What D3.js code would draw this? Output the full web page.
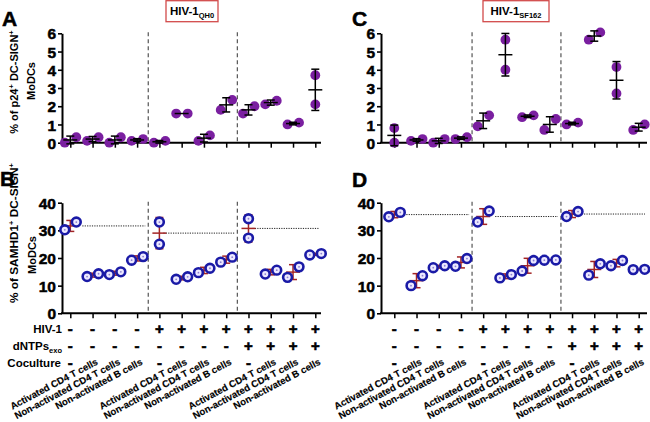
<!DOCTYPE html>
<html><head><meta charset="utf-8">
<script src="https://cdn.jsdelivr.net/npm/d3@7"></script>
<style>
body{margin:0;background:#fff}
svg{display:block}
svg text{font-family:"Liberation Sans",Arial,sans-serif !important;font-weight:700 !important;fill:#000}
</style>
</head><body>
<svg id="chart" width="650" height="422" font-family="Liberation Sans" font-weight="bold"></svg>
<script>
// ---------- data ----------
const groupIndex = d3.range(12);
const hivSigns  = ["-","-","-","-","+","+","+","+","+","+","+","+"];
const dntpSigns = ["-","-","-","-","-","-","-","-","+","+","+","+"];
const cocultureLabels = ["-","Activated CD4 T cells","Non-activated CD4 T cells","Non-activated B cells",
                         "-","Activated CD4 T cells","Non-activated CD4 T cells","Non-activated B cells",
                         "-","Activated CD4 T cells","Non-activated CD4 T cells","Non-activated B cells"];
const p24Ticks = [0,1,2,3,4,5,6];
const samhd1Ticks = [0,10,20,30,40];
const titleQH0 = ["HIV-1","QH0"];
const titleSF162 = ["HIV-1","SF162"];
// % of p24+ DC-SIGN+ MoDCs (two donors per condition)
const p24QH0 = [[0,0.3],[0.1,0.3],[0,0.3],[0.1,0.2],[0,0.1],[1.6,1.6],[0.1,0.4],[1.8,2.35],
                [1.6,2.0],[2.1,2.3],[1.0,1.1],[2.1,3.7]];
const p24SF162 = [[0,0.8],[0.1,0.2],[0,0.2],[0.2,0.3],[0.9,1.5],[4.0,5.65],[1.4,1.5],[0.7,1.3],
                  [1.0,1.1],[5.65,6.05],[2.7,4.15],[0.7,1.0]];
// % of SAMHD1+ DC-SIGN+ MoDCs
const samhd1QH0 = [[30.2,33],[13.3,14.3],[14.0,15.0],[19.2,20.5],[33,25],[12.3,13.2],[14.7,16.3],[18.5,20.3],
                   [34.2,27.2],[14.2,15.6],[13,16.8],[21.1,21.6]];
const samhd1SF162 = [[34.9,36.5],[10,13.6],[16.5,17.2],[17,19.8],[33,37],[12.8,14.0],[15.3,19.1],[19.2,19.3],
                     [35,36.8],[13.8,17.9],[17.2,19.1],[15.8,15.9]];
const referenceGroups = [0,4,8];

// ---------- drawing ----------
const svg = d3.select("#chart");

const xLeft  = d3.scalePoint().domain(groupIndex).range([70.3, 315.3]);
const xRight = d3.scalePoint().domain(groupIndex).range([394.3, 638.7]);
const yTop = d3.scaleLinear().domain([0,6]).range([142.7, 33.3]);
const yBot = d3.scaleLinear().domain([0,40]).range([313.3, 202.7]);

const panels = [
  {x:xLeft,  y:yTop, ticks:p24Ticks,    data:p24QH0,     axisX:62,  axisEnd:321, kind:"dot",  letter:"A", lx:2,   ly:26},
  {x:xRight, y:yTop, ticks:p24Ticks,    data:p24SF162,   axisX:381, axisEnd:647, kind:"dot",  letter:"C", lx:352, ly:26},
  {x:xLeft,  y:yBot, ticks:samhd1Ticks, data:samhd1QH0,  axisX:62,  axisEnd:321, kind:"ring", letter:"B", lx:0,   ly:186},
  {x:xRight, y:yBot, ticks:samhd1Ticks, data:samhd1SF162,axisX:381, axisEnd:647, kind:"ring", letter:"D", lx:352, ly:187}
];

// y-axis titles (drawn first so panel letters sit on top)
function yTitle(cy, line1Parts, x1, x2, cy2, fs){
  const t1 = svg.append("text").attr("transform",`translate(${x1},${cy}) rotate(-90)`)
    .attr("text-anchor","middle").attr("font-size",fs);
  line1Parts.forEach(pt => {
    if (pt === "+") t1.append("tspan").attr("font-size",7.5).attr("dy",-4).text("+")
    else if (pt.startsWith("|")) t1.append("tspan").attr("dy",4).text(pt.slice(1))
    else t1.append("tspan").text(pt);
  });
  svg.append("text").attr("transform",`translate(${x2},${cy2}) rotate(-90)`)
    .attr("text-anchor","middle").attr("font-size",11).text("MoDCs");
}
yTitle(82, ["% of p24","+","| DC-SIGN","+"], 18, 35, 81, 11);
yTitle(233, ["% of SAMHD1","+","| DC-SIGN","+"], 18, 36, 255, 11.8);

panels.forEach(p => {
  const g = svg.append("g");
  const y0 = p.y(0), yMax = p.y.range()[1];
  const step = p.x.step();

  // dashed separators
  [3.5, 7.5].forEach(k => {
    const xx = p.x(Math.floor(k)) + step/2;
    g.append("line").attr("x1",xx).attr("x2",xx).attr("y1",yMax-1).attr("y2",y0)
      .attr("stroke","#555").attr("stroke-width",1.2).attr("stroke-dasharray","4,3");
  });

  // y axis
  const ya = g.append("g").attr("transform",`translate(${p.axisX},0)`)
    .call(d3.axisLeft(p.y).tickValues(p.ticks).tickSize(4).tickSizeOuter(0).tickPadding(2).tickFormat(d3.format("d")));
  ya.attr("font-family",null).attr("font-size",null);
  ya.select(".domain").attr("stroke","#000").attr("stroke-width",2);
  ya.selectAll(".tick line").attr("stroke","#000").attr("stroke-width",1.6);
  ya.selectAll(".tick text").attr("font-size",15.5).attr("dy","0.36em")
    .attr("stroke","#000").attr("stroke-width",0.5);

  // x axis
  const xa = g.append("g").attr("transform",`translate(0,${y0})`)
    .call(d3.axisBottom(p.x).tickSize(5).tickSizeOuter(0).tickFormat(""));
  xa.select(".domain").remove();
  xa.selectAll(".tick line").attr("stroke","#000").attr("stroke-width",1.5);
  g.append("line").attr("x1",p.axisX-1).attr("x2",p.axisEnd).attr("y1",y0).attr("y2",y0)
    .attr("stroke","#000").attr("stroke-width",2);

  const errColor = p.kind==="dot" ? "#000" : "#a32424";

  // reference dotted lines
  if (p.kind==="ring") {
    referenceGroups.forEach((gi, j) => {
      const vals = p.data[gi];
      const m = d3.mean(vals);
      const spread = Math.abs(p.y(vals[0])-p.y(vals[1])) < 13;
      const xs = p.x(gi) + (spread ? 12 : 4);
      const xe = j < 2 ? p.x(gi+3) + step/2 - 3 : p.axisEnd - 2;
      g.append("line").attr("x1",xs).attr("x2",xe).attr("y1",p.y(m)).attr("y2",p.y(m))
        .attr("stroke","#222").attr("stroke-width",1).attr("stroke-dasharray","1.2,1.2");
    });
  }

  function drawErr(gi, vals){
    const m = d3.mean(vals), sd = d3.deviation(vals);
    const cx = p.x(gi);
    const e = g.append("g").attr("stroke",errColor).attr("stroke-width",1.5).attr("fill","none");
    e.append("line").attr("x1",cx-7).attr("x2",cx+7).attr("y1",p.y(m)).attr("y2",p.y(m));
    if (sd > 0) {
      e.append("line").attr("x1",cx).attr("x2",cx).attr("y1",p.y(m-sd)).attr("y2",p.y(m+sd));
      [m-sd, m+sd].forEach(v => e.append("line").attr("x1",cx-4).attr("x2",cx+4).attr("y1",p.y(v)).attr("y2",p.y(v)));
    }
  }

  p.data.forEach((vals, gi) => {
    const spread = Math.abs(p.y(vals[0])-p.y(vals[1])) < 13;
    const offs = spread ? [-5.5, 6] : [0, 0];
    if (p.kind==="ring") drawErr(gi, vals);
    vals.forEach((v, k) => {
      const cx = p.x(gi) + offs[k], cy = p.y(v);
      if (p.kind==="dot") {
        g.append("circle").attr("cx",cx).attr("cy",cy).attr("r",4.9).attr("fill","#7a1fa0");
      } else {
        g.append("circle").attr("cx",cx).attr("cy",cy).attr("r",4.4).attr("fill","#ece8ff")
          .attr("stroke","#1a1aa6").attr("stroke-width",2.6);
        g.append("circle").attr("cx",cx).attr("cy",cy).attr("r",0.9).attr("fill","#8b80d0");
      }
    });
    if (p.kind==="dot") drawErr(gi, vals);
  });

  // panel letter
  g.append("text").attr("x",p.lx).attr("y",p.ly).attr("font-size",21)
    .attr("stroke","#000").attr("stroke-width",0.5).text(p.letter);
});

// title boxes
function titleBox(x1, x2, parts){
  const g = svg.append("g");
  g.append("rect").attr("x",x1).attr("y",0.7).attr("width",x2-x1).attr("height",21)
    .attr("fill","#fff").attr("stroke","#d24a4a").attr("stroke-width",1.3);
  const t = g.append("text").attr("x",(x1+x2)/2).attr("y",15).attr("text-anchor","middle").attr("font-size",11.5);
  t.append("tspan").text(parts[0]);
  t.append("tspan").attr("font-size",7.5).attr("dy",2.5).text(parts[1]);
}
titleBox(166, 218, titleQH0);
titleBox(483, 549, titleSF162);

// condition rows under the lower panels
const rowY = [329, 346, 363];
[xLeft, xRight].forEach((x, pi) => {
  const g = svg.append("g");
  groupIndex.forEach(i => {
    g.append("text").attr("x",x(i)).attr("y",rowY[0]+5).attr("text-anchor","middle").attr("font-size",15)
      .attr("stroke","#000").attr("stroke-width",0.6).text(hivSigns[i]);
    g.append("text").attr("x",x(i)).attr("y",rowY[1]+5).attr("text-anchor","middle").attr("font-size",15)
      .attr("stroke","#000").attr("stroke-width",0.6).text(dntpSigns[i]);
    const lab = cocultureLabels[i];
    if (lab === "-") {
      g.append("text").attr("x",x(i)).attr("y",rowY[2]+5).attr("text-anchor","middle").attr("font-size",15)
        .attr("stroke","#000").attr("stroke-width",0.6).text("-");
    } else {
      g.append("text").attr("transform",`translate(${x(i)+6},${rowY[2]+1}) rotate(-28)`)
        .attr("text-anchor","end").attr("font-size",9.6).attr("stroke","#000").attr("stroke-width",0.15).text(lab);
    }
  });
  if (pi === 0) {
    g.append("text").attr("x",62).attr("y",rowY[0]+4).attr("text-anchor","end").attr("font-size",11.5).text("HIV-1");
    const t = g.append("text").attr("x",62).attr("y",rowY[1]+4).attr("text-anchor","end").attr("font-size",11.5);
    t.append("tspan").text("dNTPs");
    t.append("tspan").attr("font-size",7.5).attr("dy",2.5).text("exo");
    g.append("text").attr("x",61).attr("y",rowY[2]+4).attr("text-anchor","end").attr("font-size",11.5).text("Coculture");
  }
});
</script>
</body></html>
